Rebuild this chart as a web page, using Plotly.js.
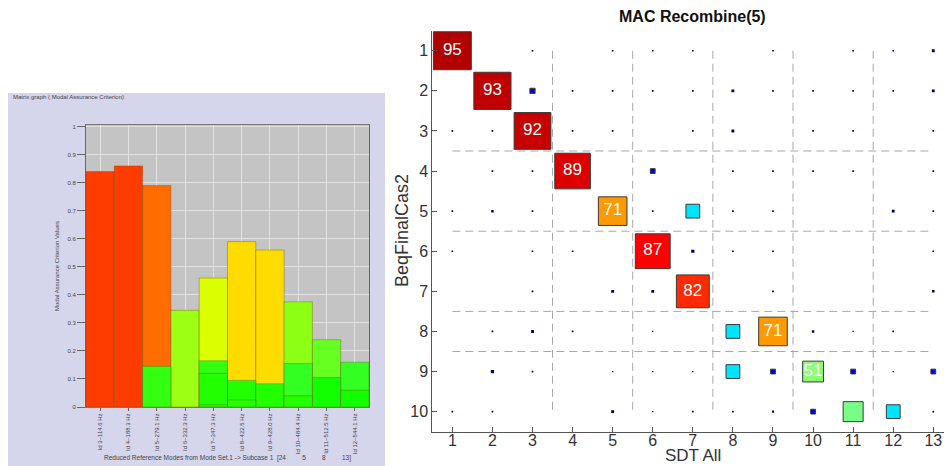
<!DOCTYPE html>
<html><head><meta charset="utf-8">
<script src="https://cdn.plot.ly/plotly-3.0.1.min.js"></script>
<style>html,body{margin:0;padding:0;background:#fff}#chart{width:944px;height:466px}</style>
</head><body><div id="chart"></div>
<script>
// ---------- Left panel: MAC bar graph ----------
const modeLabels = ['Id 3~114.6 Hz','Id 4~188.3 Hz','Id 5~279.1 Hz','Id 6~332.3 Hz','Id 7~347.3 Hz',
                    'Id 8~422.5 Hz','Id 9~428.0 Hz','Id 10~484.4 Hz','Id 11~512.5 Hz','Id 12~544.1 Hz'];
const macPrimary  = [0.84, 0.86, 0.79, 0.345, 0.46, 0.59, 0.56, 0.375, 0.24, 0.16];
const macSecond   = [null, null, 0.145, null, 0.165, 0.095, 0.083, 0.155, 0.105, 0.06];
const macThird    = [null, null, null, null, 0.12, 0.025, null, 0.04, null, null];
const macFourth   = [null, null, null, null, 0.008, null, null, null, null, null];
const colorPrimary = ['#ff3c00','#ff3c00','#ff6c00','#9cff14','#dcff00','#ffdc00','#ffdc00','#8cff14','#66ff22','#33ff22'];
const colorSecond  = ['#33ff11','#33ff11','#33ff11','#33ff11','#33ff11','#22ff00','#22ff00','#33ff22','#11ff00','#11ff00'];
const yTickVals = [0,0.1,0.2,0.3,0.4,0.5,0.6,0.7,0.8,0.9,1];
const yTickText = ['0','0.1','0.2','0.3','0.4','0.5','0.6','0.7','0.8','0.9','1'];

// ---------- Right panel: MAC matrix ----------
const macX = [1,3,5,6,7,9,11,12,13,
              2,3,4,5,6,7,8,9,10,11,12,13,
              1,2,3,4,5,7,8,10,11,13,
              2,3,4,6,8,9,10,11,13,
              1,2,3,5,6,7,8,9,12,13,
              1,3,4,6,7,8,9,13,
              3,5,6,7,9,13,
              2,3,4,6,8,9,10,11,12,
              2,3,5,6,7,8,9,10,11,12,13,
              1,2,5,6,7,8,9,10,11,12,13];
const macY = [1,1,1,1,1,1,1,1,1,
              2,2,2,2,2,2,2,2,2,2,2,2,
              3,3,3,3,3,3,3,3,3,3,
              4,4,4,4,4,4,4,4,4,
              5,5,5,5,5,5,5,5,5,5,
              6,6,6,6,6,6,6,6,
              7,7,7,7,7,7,
              8,8,8,8,8,8,8,8,8,
              9,9,9,9,9,9,9,9,9,9,9,
              10,10,10,10,10,10,10,10,10,10,10];
const macV = [95,2,2,2,2,2,2,2,5,
              93,11,2,2,2,2,5,2,2,2,2,5,
              2,2,92,2,2,2,5,2,2,2,
              2,2,89,10,2,2,2,2,2,
              2,4,2,71,2,33,2,2,5,2,
              2,2,2,87,6,2,2,2,
              2,5,5,82,2,4,
              2,5,2,1,33,71,4,1,2,
              6,2,1,1,1,33,10,51,10,1,10,
              2,2,5,1,2,2,3,10,49,33,2];
const xTicks = [1,2,3,4,5,6,7,8,9,10,11,12,13];
const yTicks = [1,2,3,4,5,6,7,8,9,10];
const groupBreaksX = [3.5, 5.5, 7.5, 9.5, 11.5];
const groupBreaksY = [3.5, 5.5, 7.5, 8.5];

// ---------- geometry (pixels) ----------
const W = 944, H = 466;
const px = v => v / W, py = v => 1 - v / H;
const L = {x0: 86, x1: 369, yTop: 125, yBot: 407};
const R = {x0: 432.3, x1: 944, yTop: 30.7, yBot: 431.7};

const barLine = {color: 'rgba(110,70,0,0.35)', width: 1};
const traces = [
  {type:'bar', x: modeLabels, y: macPrimary, marker:{color: colorPrimary, line: barLine}, xaxis:'x', yaxis:'y', hoverinfo:'y'},
  {type:'bar', x: modeLabels, y: macSecond, marker:{color: colorSecond, line: barLine}, xaxis:'x', yaxis:'y', hoverinfo:'y'},
  {type:'bar', x: modeLabels, y: macThird, marker:{color: '#22ff00', line: barLine}, xaxis:'x', yaxis:'y', hoverinfo:'y'},
  {type:'bar', x: modeLabels, y: macFourth, marker:{color: '#22ff00', line: barLine}, xaxis:'x', yaxis:'y', hoverinfo:'y'},
  {type:'scatter', mode:'markers+text', x: macX, y: macY, xaxis:'x2', yaxis:'y2',
   text: macV.map(v => v >= 50 ? String(v) : ''),
   textposition: 'middle center',
   textfont: {family:'Liberation Sans, Arial, sans-serif', size:17, color:'#ffffff'},
   marker: {symbol:'square', opacity: 1, size: macV.map(v => 0.9 + 0.39 * v),
            color: macV, cmin: 0, cmax: 100,
            colorscale: [[0,'#000030'],[0.06,'#00006a'],[0.1,'#0000d0'],[0.2,'#0070ff'],[0.33,'#00e5ff'],
                         [0.5,'#80ff80'],[0.6,'#ffee00'],[0.71,'#ff9900'],[0.82,'#ff2a00'],[0.87,'#ff0000'],
                         [0.89,'#dd0000'],[0.93,'#c00000'],[0.95,'#b00000'],[1,'#900000']],
            line: {color:'#3a3a3a', width: macV.map(v => v >= 8 ? 1 : 0)}},
   hoverinfo:'x+y+text'}
];

const shapes = [
  {type:'rect', xref:'paper', yref:'paper', x0: px(8), x1: px(385), y0: 0, y1: py(93), fillcolor:'#d5d5ec', line:{width:0}, layer:'below'},
  {type:'rect', xref:'paper', yref:'paper', x0: px(L.x0), x1: px(L.x1), y0: py(L.yBot), y1: py(L.yTop), fillcolor:'#c4c4c4', line:{width:0}, layer:'below'}
];
groupBreaksX.forEach(b => shapes.push({type:'line', xref:'x2', yref:'y2', x0:b, x1:b, y0:1, y1:10,
  line:{color:'#a8a8a8', width:1, dash:'8px,5px'}, layer:'below'}));
groupBreaksY.forEach(b => shapes.push({type:'line', xref:'x2', yref:'y2', x0:1, x1:13, y0:b, y1:b,
  line:{color:'#a8a8a8', width:1, dash:'8px,5px'}, layer:'below'}));

const tiny = {family:'Liberation Sans, Arial, sans-serif', size:6, color:'#444'};
const rfont = {family:'Liberation Sans, Arial, sans-serif', size:16, color:'#333'};
const layout = {
  width: W, height: H, margin:{l:0,r:0,t:0,b:0},
  paper_bgcolor:'#ffffff', plot_bgcolor:'rgba(0,0,0,0)',
  showlegend:false, barmode:'overlay', bargap:0,
  xaxis: {domain:[px(L.x0), px(L.x1)], anchor:'y', type:'category', range:[-0.5, 9.5],
          showgrid:true, gridcolor:'#e2e2e2', gridwidth:1, tickangle:-90, tickfont: tiny,
          ticks:'outside', ticklen:3, tickcolor:'#666', showline:true, linecolor:'#777', mirror:true, zeroline:false},
  yaxis: {domain:[py(L.yBot), py(L.yTop)], anchor:'x', range:[0, 1.006],
          tickvals: yTickVals, ticktext: yTickText, tickfont: tiny,
          showgrid:true, gridcolor:'#e2e2e2', gridwidth:1,
          ticks:'outside', ticklen:8, tickcolor:'#666', showline:true, linecolor:'#666', mirror:true, zeroline:false},
  xaxis2: {domain:[px(R.x0), px(R.x1)], anchor:'y2', range:[0.5, 0.5 + (R.x1 - R.x0) / 40.08],
           tickvals: xTicks, tickfont: rfont, ticks:'inside', ticklen:5, tickcolor:'#555', ticklabelstandoff:-6,
           showline:true, linecolor:'#555', linewidth:1, showgrid:false, zeroline:false},
  yaxis2: {domain:[py(R.yBot), py(R.yTop)], anchor:'x2', range:[10.5, 0.5],
           tickvals: yTicks, tickfont: rfont, ticks:'inside', ticklen:5, tickcolor:'#555',
           showline:true, linecolor:'#555', linewidth:1, showgrid:false, zeroline:false},
  shapes: shapes,
  annotations: [
    {xref:'paper', yref:'paper', x: px(11), y: py(97), xanchor:'left', yanchor:'middle', showarrow:false,
     text:'Matrix graph ( Modal Assurance Criterion)', font: tiny},
    {xref:'paper', yref:'paper', x: px(57), y: py(266), xanchor:'center', yanchor:'middle', showarrow:false,
     textangle:-90, text:'Modal Assurance Criterion Values', font: tiny},
    {xref:'paper', yref:'paper', x: px(227), y: py(458), xanchor:'center', yanchor:'middle', showarrow:false,
     text:'Reduced Reference Modes from Mode Set.1 -> Subcase 1  [24\u00a0\u00a0\u00a0\u00a0\u00a0\u00a0\u00a0\u00a0\u00a05\u00a0\u00a0\u00a0\u00a0\u00a0\u00a0\u00a0\u00a0\u00a08\u00a0\u00a0\u00a0\u00a0\u00a0\u00a0\u00a0\u00a0\u00a013]', font: {family:tiny.family, size:6.5, color:'#444'}},
    {xref:'paper', yref:'paper', x: px(692), y: py(17), xanchor:'center', yanchor:'middle', showarrow:false,
     text:'<b>MAC Recombine(5)</b>', font: {family:'Liberation Sans, Arial, sans-serif', size:16, color:'#111'}},
    {xref:'paper', yref:'paper', x: px(402), y: py(231), xanchor:'center', yanchor:'middle', showarrow:false,
     textangle:-90, text:'BeqFinalCas2', font: {family:'Liberation Sans, Arial, sans-serif', size:18, color:'#333'}},
    {xref:'paper', yref:'paper', x: px(693), y: 0, xanchor:'center', yanchor:'bottom', yshift:-1, showarrow:false,
     text:'SDT All', font: {family:'Liberation Sans, Arial, sans-serif', size:17, color:'#333'}}
  ]
};
Plotly.newPlot('chart', traces, layout, {displayModeBar:false, staticPlot:true});
</script>
</body></html>
